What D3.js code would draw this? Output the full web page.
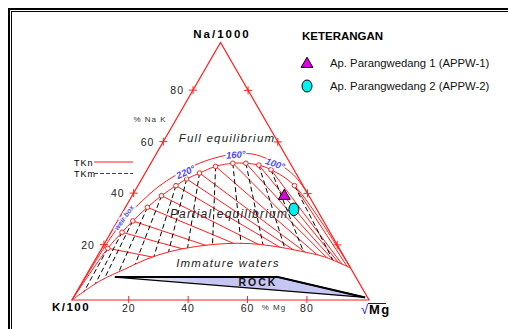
<!DOCTYPE html>
<html>
<head>
<meta charset="utf-8">
<script src="https://cdn.jsdelivr.net/npm/d3@7"></script>
<style>
  body { margin: 0; background: #fff; }
  svg { display: block; font-family: "Liberation Sans", Arial, sans-serif; }
</style>
</head>
<body>
<svg id="chart" width="508" height="329"></svg>
<script>
// ternary values in percent: Na, Mg (K is the rest)
const tempLabels = [340, 320, 300, 280, 260, 240, 220, 200, 180, 160, 140, 120, 100, 80];
const eqNa = [20.1, 26.3, 30.7, 36.0, 40.5, 44.4, 47.0, 49.3, 51.9, 53.1, 53.1, 52.4, 50.6, 44.4];
const eqMg = [2.0, 3.7, 5.1, 7.4, 9.9, 12.8, 15.1, 18.3, 22.4, 27.6, 32.0, 36.7, 41.7, 52.7];

const immatureNa = [0, 7.4, 12.0, 15.9, 18.8, 20.8, 21.9, 21.9, 20.8, 19.0, 16.7, 12.4];
const immatureMg = [0, 5.7, 11.8, 17.3, 23.6, 31.4, 40.6, 49.0, 58.0, 67.3, 76.8, 87.6];

const arcNa = [0, 14.8, 24.9, 32.6, 38.5, 43.9, 48.5, 52.4, 55.2, 56.7, 56.7, 54.4, 51.5, 47.6, 41.4];
const arcMg = [0, 0.4, 1.0, 2.2, 4.4, 7.0, 10.7, 15.2, 20.6, 26.5, 32.3, 39.5, 45.7, 51.6, 58.6];

const rockNa = [8.9, 8.9, 1.0];
const rockMg = [10.0, 64.9, 98.2];

const sampleNames = ["Ap. Parangwedang 1 (APPW-1)", "Ap. Parangwedang 2 (APPW-2)"];
const sampleNa = [40.4, 35.2];
const sampleMg = [51.3, 57.1];

const tickValues = [20, 40, 60, 80];

const svg = d3.select("#chart");

// frame
svg.append("rect").attr("x", 9).attr("y", 9).attr("width", 600).attr("height", 400)
  .attr("fill", "none").attr("stroke", "#000").attr("stroke-width", 2);
svg.append("rect").attr("x", 11.5).attr("y", 11.5).attr("width", 600).attr("height", 400)
  .attr("fill", "none").attr("stroke", "#000").attr("stroke-width", 1);

const xs = d3.scaleLinear().domain([0, 100]).range([72, 369]);
const ys = d3.scaleLinear().domain([0, 100]).range([300, 42.5]);
const proj = (na, mg) => [xs(mg + na / 2), ys(na)];
const red = "#ff2020";

const eqPts = eqNa.map((d, i) => proj(d, eqMg[i]));
const immPts = immatureNa.map((d, i) => proj(d, immatureMg[i]));
const arcPts = arcNa.map((d, i) => proj(d, arcMg[i]));
const apex = proj(100, 0), kV = proj(0, 0), mgV = proj(0, 100);
const rightEnd = immPts[immPts.length - 1];

const line = d3.line();
const curve = d3.line().curve(d3.curveCatmullRom);

// clip: everything above the immature curve inside triangle
const defs = svg.append("defs");
defs.append("clipPath").attr("id", "partial")
  .append("path").attr("d", line([...immPts, apex]) + "Z");
const grad = defs.append("linearGradient").attr("id", "rockFill");
grad.append("stop").attr("offset", "0").attr("stop-color", "#ffffff");
grad.append("stop").attr("offset", "0.35").attr("stop-color", "#c6c6f2");
grad.append("stop").attr("offset", "1").attr("stop-color", "#c6c6f2");

// rock
const rockPts = rockNa.map((d, i) => proj(d, rockMg[i]));
svg.append("path").attr("d", line(rockPts) + "Z")
  .attr("fill", "url(#rockFill)").attr("stroke", "#000").attr("stroke-width", 1.3);
svg.append("path").attr("d", line([rockPts[0], rockPts[1], rockPts[2]]))
  .attr("fill", "none").attr("stroke", "#000").attr("stroke-width", 2);
svg.append("text").attr("x", 258).attr("y", 286).attr("text-anchor", "middle")
  .attr("font-size", 10.5).attr("font-weight", "bold").attr("letter-spacing", 2)
  .attr("fill", "#111").text("ROCK");

// TKn / TKm lines
const g = svg.append("g").attr("clip-path", "url(#partial)");
eqPts.forEach(p => {
  g.append("line").attr("x1", p[0]).attr("y1", p[1]).attr("x2", mgV[0]).attr("y2", mgV[1])
    .attr("stroke", red).attr("stroke-width", 1);
  const ex = p[0] + (p[0] - apex[0]) * 3, ey = p[1] + (p[1] - apex[1]) * 3;
  g.append("line").attr("x1", p[0]).attr("y1", p[1]).attr("x2", ex).attr("y2", ey)
    .attr("stroke", "#000").attr("stroke-width", 1).attr("stroke-dasharray", "5,3");
});

// curves
svg.append("path").attr("d", curve([kV, ...eqPts, rightEnd]))
  .attr("fill", "none").attr("stroke", red).attr("stroke-width", 1);
svg.append("path").attr("d", curve(immPts))
  .attr("fill", "none").attr("stroke", red).attr("stroke-width", 1);
svg.append("path").attr("d", curve(arcPts))
  .attr("fill", "none").attr("stroke", red).attr("stroke-width", 1);

// triangle
svg.append("path").attr("d", line([kV, mgV, apex]) + "Z")
  .attr("fill", "none").attr("stroke", red).attr("stroke-width", 1.2);

// ticks
const plus = (p) => {
  svg.append("path").attr("d", `M${p[0] - 4},${p[1]}H${p[0] + 4}M${p[0]},${p[1] - 4}V${p[1] + 4}`)
    .attr("stroke", red).attr("stroke-width", 1);
};
tickValues.forEach(v => {
  const l = proj(v + 1.5, 0), r = proj(v + 1.4, 100 - v - 1.4), b = proj(0, v - 0.9);
  plus(l); plus(r);
  svg.append("path").attr("d", `M${b[0]},${b[1] - 4}V${b[1] + 3}`).attr("stroke", red).attr("stroke-width", 1);
  svg.append("text").attr("x", l[0] - 9).attr("y", l[1] + 4).attr("text-anchor", "end")
    .attr("font-size", 10.5).attr("letter-spacing", 1).attr("fill", "#222").text(v);
  svg.append("text").attr("x", b[0]).attr("y", b[1] + 12).attr("text-anchor", "middle")
    .attr("font-size", 10.5).attr("letter-spacing", 1).attr("fill", "#222").text(v);
});

// equilibrium markers
svg.selectAll("circle.eq").data(eqPts).join("circle").attr("class", "eq")
  .attr("cx", d => d[0]).attr("cy", d => d[1]).attr("r", 2.3)
  .attr("fill", "#fff").attr("stroke", red).attr("stroke-width", 1);

// temperature labels on the arc
const blue = "#4a4aff";
const tl = (t, x, y, rot, size) => svg.append("text")
  .attr("transform", `translate(${x},${y}) rotate(${rot})`).attr("text-anchor", "middle")
  .attr("font-size", size).attr("font-style", "italic").attr("font-weight", "bold").attr("fill", blue)
  .attr("stroke", "#fff").attr("stroke-width", 2.5).attr("paint-order", "stroke").text(t);
tl(tempLabels[6] + "°", 187, 175, -25, 9.5);
tl(tempLabels[9] + "°", 236, 158, -4, 9.5);
tl(tempLabels[12] + "°", 274, 167, 20, 9.5);
tl("weir box", 126, 219, -55, 7);

// region labels
const region = (t, x, y, size) => svg.append("text").attr("x", x).attr("y", y)
  .attr("text-anchor", "middle").attr("font-size", size).attr("font-style", "italic")
  .attr("letter-spacing", 1.2).attr("fill", "#222").text(t);
region("Full equilibrium", 227, 142, 11.5);
region("Partial equilibrium", 229, 218, 12);
region("Immature waters", 228, 267, 11.5);

// vertex labels
svg.append("text").attr("x", 222).attr("y", 38).attr("text-anchor", "middle")
  .attr("font-size", 11.5).attr("font-weight", "bold").attr("letter-spacing", 2).text("Na/1000");
svg.append("text").attr("x", 71).attr("y", 311).attr("text-anchor", "middle")
  .attr("font-size", 11.5).attr("font-weight", "bold").attr("letter-spacing", 1.5).text("K/100");
svg.append("text").attr("x", 361).attr("y", 314).attr("font-size", 13).attr("fill", "#0000ff").text("√");
svg.append("path").attr("d", "M368,303.5H386").attr("stroke", "#0000ff").attr("stroke-width", 1);
svg.append("text").attr("x", 369).attr("y", 314).attr("font-size", 13).attr("font-weight", "bold")
  .attr("letter-spacing", 1.5).text("Mg");
svg.append("text").attr("x", 150).attr("y", 122).attr("text-anchor", "middle")
  .attr("font-size", 8).attr("letter-spacing", 1).attr("fill", "#333").text("% Na K");
svg.append("text").attr("x", 274).attr("y", 310).attr("text-anchor", "middle")
  .attr("font-size", 8).attr("letter-spacing", 1).attr("fill", "#333").text("% Mg");

// TKn / TKm key
svg.append("text").attr("x", 74).attr("y", 166).attr("font-size", 9).attr("letter-spacing", 1).text("TKn");
svg.append("path").attr("d", "M94,162H133").attr("stroke", red).attr("stroke-width", 1.2);
svg.append("text").attr("x", 74).attr("y", 177).attr("font-size", 9).attr("letter-spacing", 1).text("TKm");
svg.append("path").attr("d", "M94,173.5H133").attr("stroke", "#444").attr("stroke-width", 1.2)
  .attr("stroke-dasharray", "4,2");

// samples
const tri = d3.symbol().type(d3.symbolTriangle).size(60);
const sp = sampleNa.map((d, i) => proj(d, sampleMg[i]));
svg.append("path").attr("d", tri()).attr("transform", `translate(${sp[0][0]},${sp[0][1]})`)
  .attr("fill", "#e000e0").attr("stroke", "#000").attr("stroke-width", 1);
svg.append("ellipse").attr("cx", sp[1][0]).attr("cy", sp[1][1]).attr("rx", 5).attr("ry", 6.3)
  .attr("fill", "#00f0f0").attr("stroke", "#000").attr("stroke-width", 1);

// legend
svg.append("text").attr("x", 302).attr("y", 40).attr("font-size", 11.5).attr("font-weight", "bold")
  .text("KETERANGAN");
svg.append("path").attr("d", tri()).attr("transform", "translate(307,64)")
  .attr("fill", "#e000e0").attr("stroke", "#000").attr("stroke-width", 1);
svg.append("ellipse").attr("cx", 307).attr("cy", 86).attr("rx", 5).attr("ry", 6)
  .attr("fill", "#00f0f0").attr("stroke", "#000").attr("stroke-width", 1);
sampleNames.forEach((n, i) => svg.append("text").attr("x", 330).attr("y", 67 + i * 23)
  .attr("font-size", 11.3).attr("fill", "#111").text(n));
</script>
</body>
</html>
